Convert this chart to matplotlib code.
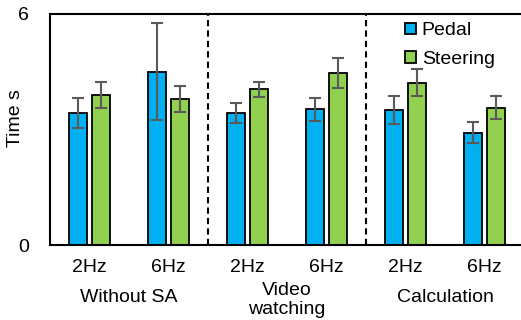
import numpy as np
import matplotlib.pyplot as plt
import matplotlib.transforms as mtransforms

plt.rcParams['font.family'] = ['Liberation Sans', 'DejaVu Sans']

freqs = ["2Hz", "6Hz", "2Hz", "6Hz", "2Hz", "6Hz"]
conditions = ["Without SA", "Video\nwatching", "Calculation"]
pedal = [3.44, 4.50, 3.43, 3.52, 3.50, 2.92]
pedal_err = [0.39, 1.26, 0.27, 0.29, 0.37, 0.28]
steering = [3.90, 3.79, 4.04, 4.48, 4.22, 3.57]
steering_err = [0.34, 0.33, 0.19, 0.39, 0.35, 0.29]

fs = 14

fig = plt.figure(figsize=(5.21, 3.2), dpi=100)
ax = fig.add_axes([50/521, 75/320, 474/521, 231/320])

x = np.arange(len(freqs))
w = 0.23
err_kw = dict(ecolor="#5a5a5a", elinewidth=1.5, capsize=4, capthick=1.5)
ax.bar(x - 0.145, pedal, w, yerr=pedal_err, color="#00b0f0", edgecolor="black",
       linewidth=1.3, error_kw=err_kw, label="Pedal")
ax.bar(x + 0.145, steering, w, yerr=steering_err, color="#92d050", edgecolor="black",
       linewidth=1.3, error_kw=err_kw, label="Steering")

# dashed separators between the conditions
for xd in [1.5, 3.5]:
    ax.plot([xd, xd], [0, 6], color="black", linestyle=(0, (3, 2)), linewidth=1.5)

ax.set_xlim(-0.5, 5.5)
ax.set_ylim(0, 6)
ax.set_yticks([0, 6])
ax.set_xticks(x)
ax.set_xticklabels(freqs)
ax.tick_params(length=0, labelsize=fs)
ax.tick_params(axis="y", pad=15)
ax.tick_params(axis="x", pad=10)
for s in ax.spines.values():
    s.set_linewidth(1.5)

ax.set_ylabel("Time s", fontsize=fs)
ax.yaxis.set_label_coords(-0.054, 0.55)

trans = mtransforms.blended_transform_factory(ax.transData, fig.transFigure)
for i, name in enumerate(conditions):
    yy = 1 - 297/320 if "\n" not in name else 1 - 300/320
    ax.text(2 * i + 0.5, yy, name, transform=trans, ha="center", va="center",
            fontsize=fs, linespacing=1.15)

ax.legend(loc="upper left", bbox_to_anchor=(0.733, 0.998), frameon=False,
          fontsize=fs, handlelength=0.55, handleheight=0.55, handletextpad=0.3,
          labelspacing=0.6, borderaxespad=0)

plt.savefig("out.png", dpi=100)
plt.close()
